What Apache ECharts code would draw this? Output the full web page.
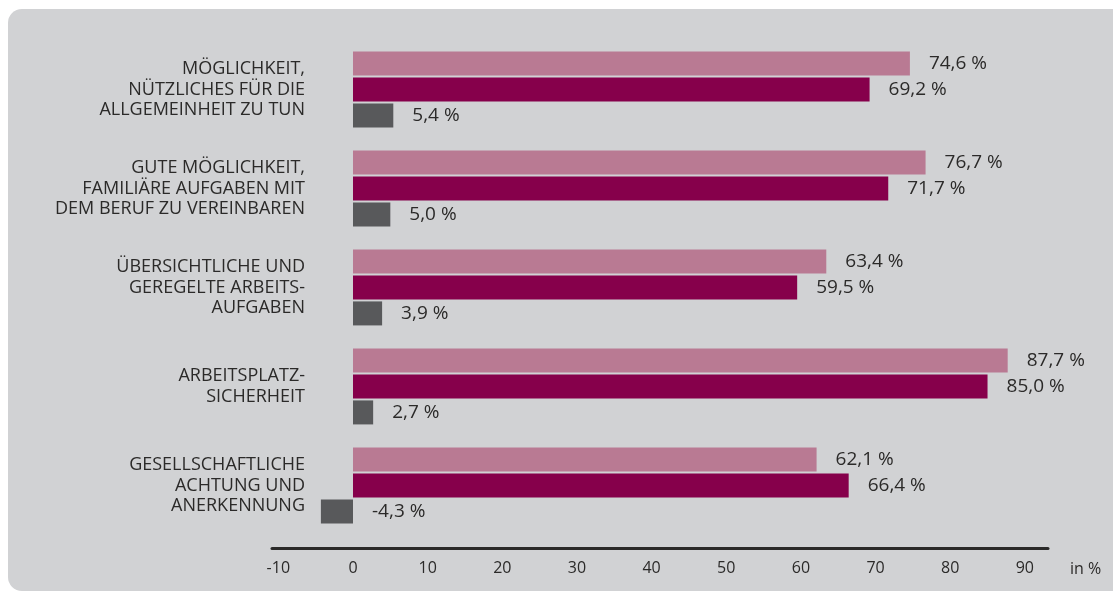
<!DOCTYPE html>
<html>
<head>
<meta charset="utf-8">
<script src="https://cdn.jsdelivr.net/npm/echarts@6/dist/echarts.min.js"></script>
<style>
  html, body { margin: 0; padding: 0; background: #ffffff; }
  .wrap { position: relative; width: 1113px; height: 595px; overflow: hidden; }
  .panel {
    position: absolute; left: 8px; top: 9px; width: 1130px; height: 582px;
    background: #d1d2d4; border-radius: 14px;
  }
  #chart { position: absolute; left: 0; top: 0; width: 1113px; height: 595px; }
</style>
</head>
<body>
<div class="wrap">
  <div class="panel"></div>
  <div id="chart"></div>
</div>
<script>
  // Kategorien (von oben nach unten)
  const categories = [
    'MÖGLICHKEIT,\nNÜTZLICHES FÜR DIE\nALLGEMEINHEIT ZU TUN',
    'GUTE MÖGLICHKEIT,\nFAMILIÄRE AUFGABEN MIT\nDEM BERUF ZU VEREINBAREN',
    'ÜBERSICHTLICHE UND\nGEREGELTE ARBEITS-\nAUFGABEN',
    'ARBEITSPLATZ-\nSICHERHEIT',
    'GESELLSCHAFTLICHE\nACHTUNG UND\nANERKENNUNG'
  ];
  // Werte in %
  const seriesA = [74.6, 76.7, 63.4, 87.7, 62.1];
  const seriesB = [69.2, 71.7, 59.5, 85.0, 66.4];
  const seriesC = [5.4, 5.0, 3.9, 2.7, -4.3];
  const xTicks = [-10, 0, 10, 20, 30, 40, 50, 60, 70, 80, 90];

  const textColor = '#2b2a29';
  const fontFamily = '"Open Sans", "Noto Sans", sans-serif';

  function fmt (v) {
    return v.toFixed(1).replace('.', ',') + ' %';
  }

  function makeSeries (data, color) {
    return {
      type: 'bar',
      data: data,
      barWidth: 24,
      barGap: '8%',
      itemStyle: { color: color },
      label: {
        show: true,
        position: 'right',
        distance: 19,
        color: textColor,
        fontFamily: fontFamily,
        fontSize: 19,
        formatter: function (p) { return fmt(p.value); }
      }
    };
  }

  const chart = echarts.init(document.getElementById('chart'));
  chart.setOption({
    backgroundColor: 'transparent',
    animation: false,
    grid: { left: 272, right: 65, top: 40, bottom: 60, containLabel: false },
    xAxis: {
      type: 'value',
      min: -10.85,
      max: 93.1,
      offset: 13,
      name: 'in %',
      nameLocation: 'end',
      nameGap: 22,
      nameTextStyle: {
        color: textColor, fontFamily: fontFamily, fontSize: 16,
        verticalAlign: 'top', padding: [13, 0, 0, 0]
      },
      axisLine: { show: true, onZero: false, lineStyle: { color: '#2b2a29', width: 3 } },
      axisTick: { show: false },
      splitLine: { show: false },
      axisLabel: {
        customValues: xTicks,
        margin: 12,
        color: textColor,
        fontFamily: fontFamily,
        fontSize: 16
      }
    },
    yAxis: {
      type: 'category',
      inverse: true,
      data: categories,
      axisLine: { show: false },
      axisTick: { show: false },
      axisLabel: {
        margin: -33,
        color: textColor,
        fontFamily: fontFamily,
        fontSize: 18,
        lineHeight: 20.5,
        align: 'right'
      }
    },
    series: [
      makeSeries(seriesA, '#b97a93'),
      makeSeries(seriesB, '#86004b'),
      makeSeries(seriesC, '#58595b')
    ]
  });
</script>
</body>
</html>
